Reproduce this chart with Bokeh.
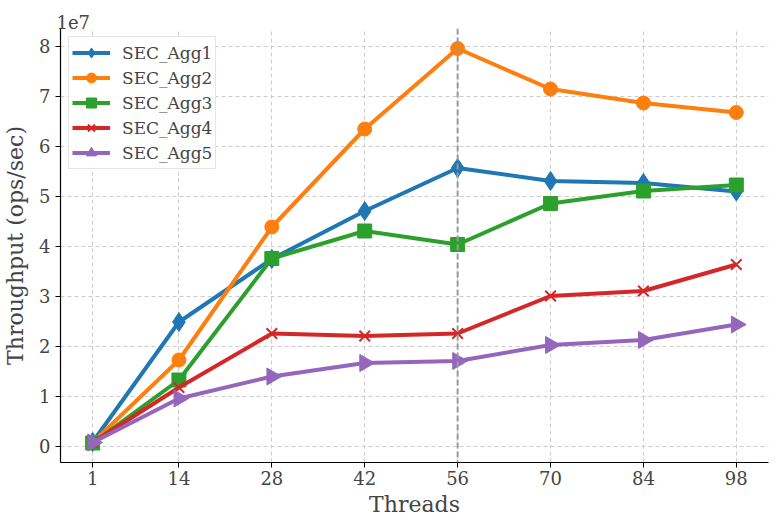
import math
from bokeh.plotting import figure
from bokeh.models import FixedTicker, Span, CustomJSTickFormatter, Legend, LegendItem, Range1d
from bokeh.embed import file_html
from bokeh.resources import INLINE

threads = [1, 14, 28, 42, 56, 70, 84, 98]
agg1 = [0.08e7, 2.48e7, 3.74e7, 4.70e7, 5.56e7, 5.30e7, 5.26e7, 5.09e7]
agg2 = [0.07e7, 1.72e7, 4.38e7, 6.34e7, 7.95e7, 7.14e7, 6.86e7, 6.67e7]
agg3 = [0.06e7, 1.32e7, 3.75e7, 4.30e7, 4.03e7, 4.85e7, 5.10e7, 5.22e7]
agg4 = [0.07e7, 1.17e7, 2.25e7, 2.20e7, 2.25e7, 3.00e7, 3.10e7, 3.63e7]
agg5 = [0.07e7, 0.95e7, 1.39e7, 1.66e7, 1.70e7, 2.02e7, 2.12e7, 2.43e7]
names = ["SEC_Agg1", "SEC_Agg2", "SEC_Agg3", "SEC_Agg4", "SEC_Agg5"]
y_ticks = [0, 1e7, 2e7, 3e7, 4e7, 5e7, 6e7, 7e7, 8e7]
highlight_x = 56

series = [agg1, agg2, agg3, agg4, agg5]
colors = ["#1f77b4", "#ff7f0e", "#2ca02c", "#d62728", "#9467bd"]
markers = ["diamond", "circle", "square", "x", "triangle"]
sizes = [19, 14, 14, 15, 17]
angles = [0, 0, 0, 0, -math.pi / 2]

FONT = "DejaVu Serif"

p = figure(frame_width=708, frame_height=434, output_backend="svg", toolbar_location=None,
           x_range=Range1d(-3.85, 102.85), y_range=Range1d(-0.33e7, 8.35e7),
           min_border_left=52, min_border_right=2, min_border_top=28, min_border_bottom=49)

p.title.text = "1e7"
p.title.text_font = FONT
p.title.text_font_size = "18px"
p.title.text_font_style = "normal"
p.title.align = "left"
p.title.offset = -4
p.title.standoff = 0

p.outline_line_color = None
p.background_fill_color = "white"

for ax in (p.xaxis[0], p.yaxis[0]):
    ax.axis_line_color = "black"
    ax.axis_line_width = 1.2
    ax.major_tick_line_color = "black"
    ax.major_tick_out = 5
    ax.major_tick_in = 0
    ax.minor_tick_line_color = None
    ax.major_label_text_font = FONT
    ax.major_label_text_font_size = "18px"
    ax.axis_label_text_font = FONT
    ax.axis_label_text_font_size = "22px"
    ax.axis_label_text_font_style = "normal"

p.xaxis.ticker = FixedTicker(ticks=threads)
p.yaxis.ticker = FixedTicker(ticks=y_ticks)
p.yaxis.formatter = CustomJSTickFormatter(code="return (tick/1e7).toFixed(0);")
p.xaxis.axis_label = "Threads"
p.yaxis.axis_label = "Throughput (ops/sec)"
p.xaxis.axis_label_standoff = 4
p.yaxis.axis_label_standoff = 8
p.xaxis.major_label_standoff = 3
p.yaxis.major_label_standoff = 5

for g in (p.xgrid[0], p.ygrid[0]):
    g.grid_line_color = "#cccccc"
    g.grid_line_dash = "4 3"
    g.grid_line_width = 1
p.xgrid.ticker = FixedTicker(ticks=threads)
p.ygrid.ticker = FixedTicker(ticks=y_ticks)

p.add_layout(Span(location=highlight_x, dimension="height", line_color="#999999",
                  line_dash="6 3", line_width=2))

items = []
for vals, c, m, s, a, n in zip(series, colors, markers, sizes, angles, names):
    r1 = p.line(threads, vals, line_color=c, line_width=4)
    kw = dict(line_width=2) if m == "x" else dict(line_width=1)
    r2 = p.scatter(threads, vals, marker=m, size=s, fill_color=c, line_color=c, angle=a, **kw)
    items.append(LegendItem(label=n, renderers=[r1, r2]))

legend = Legend(items=items, location="top_left")
legend.label_text_font = FONT
legend.label_text_font_size = "17px"
legend.border_line_color = "#cccccc"
legend.border_line_width = 1
legend.background_fill_alpha = 0.9
legend.glyph_width = 38
legend.glyph_height = 25
legend.label_height = 20
legend.spacing = 0
legend.padding = 3
legend.margin = 8
legend.label_standoff = 12
p.add_layout(legend)

open("out.html", "w").write(file_html(p, INLINE))
